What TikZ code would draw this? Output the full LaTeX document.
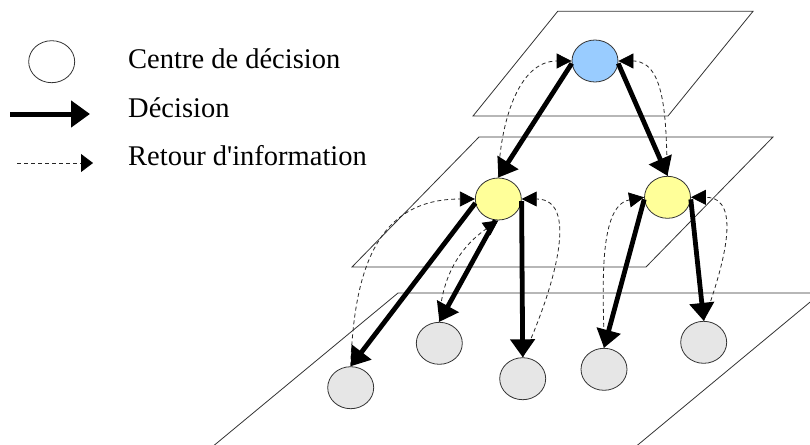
\documentclass[tikz,border=0pt]{standalone}
\usepackage{fontspec}
\setmainfont{Liberation Serif}[Ligatures=TeXOff]
\usetikzlibrary{shapes.geometric,arrows.meta}
\definecolor{cblue}{HTML}{99CCFF}
\definecolor{cyellow}{HTML}{FFFF99}
\definecolor{cgray}{HTML}{E6E6E6}
\definecolor{cline}{HTML}{333333}
\tikzset{
  centre/.style={ellipse, draw=cline, line width=0.8pt, minimum width=46pt, minimum height=42pt, inner sep=0pt},
  plane/.style={draw=cline, line width=0.8pt, line join=miter},
  decis/.style={line width=4.8pt, -{Triangle[length=18pt,width=24pt]}},
  retour/.style={draw=black!85, line width=0.8pt, dash pattern=on 4pt off 3pt, -{Triangle[length=15pt,width=15pt,fill=black,color=black]}},
  lbl/.style={anchor=base west, inner sep=0pt, font=\fontsize{28.5}{34}\selectfont}
}
\begin{document}
\begin{tikzpicture}[x=1pt,y=-1pt]
\useasboundingbox (0,0) rectangle (810,444);
% planes
\draw[plane] (557.7,11.3) -- (753,11.3) -- (668,116) -- (473,116) -- cycle;
\draw[plane] (479,137) -- (773,137) -- (646,267) -- (352,267) -- cycle;
\begin{scope}
\clip (0,0) rectangle (810,444);
\draw[plane] (196.4,460) -- (398,293) -- (821,293) -- (619.6,460);
\end{scope}
% legend
\node[centre, fill=white] (leg) at (51.7,61.7) {};
\node[lbl] (t1) at (128,68.3) {Centre de décision};
\node[lbl] (t2) at (128,117.3) {Décision};
\node[lbl] (t3) at (128,165.7) {Retour d'information};
\coordinate (a1) at (10,114);
\coordinate (a2) at (90,114);
\draw[line width=5pt, -{Triangle[length=19pt,width=26pt]}] (a1) -- (a2);
\coordinate (b1) at (17,163);
\coordinate (b2) at (93,163);
\draw[retour, -{Triangle[length=12pt,width=18pt,fill=black,color=black]}] (b1) -- (b2);
% nodes
\node[centre, fill=cblue] (B) at (595,61) {};
\node[centre, fill=cyellow] (YL) at (498.3,199) {};
\node[centre, fill=cyellow] (YR) at (667.5,197.3) {};
\node[centre, fill=cgray] (G1) at (350.7,387.7) {};
\node[centre, fill=cgray] (G2) at (439.3,343.3) {};
\node[centre, fill=cgray] (G3) at (522.7,378.7) {};
\node[centre, fill=cgray] (G4) at (604,369.3) {};
\node[centre, fill=cgray] (G5) at (703.7,342.3) {};
% feedback (dashed)
\draw[retour] (YL.north) to[out=88,in=180] (B.west);
\draw[retour] (YR.north) to[out=92,in=0] (B.east);
\draw[retour] (G1.north) to[out=88,in=180,looseness=1.2] (YL.west);
\draw[retour] (G2.north) to[out=88,in=215] (YL.south);
\draw[retour] (G3.north) to[out=65,in=0] (YL.east);
\draw[retour] (G4.north) to[out=90,in=190,looseness=0.8] (YR.west);
\draw[retour] (G5.north) to[out=70,in=0,looseness=1.1] (YR.east);
% decisions (thick)
\draw[decis] (B.186) -- (YL.north);
\draw[decis] (B.354) -- (YR.north);
\draw[decis] (YL.190) -- (G1.north);
\draw[decis] (YL.262) -- (G2.north);
\draw[decis] (YL.355) -- (G3.north);
\draw[decis] (YR.185) -- (G4.north);
\draw[decis] (YR.355) -- (G5.north);
\end{tikzpicture}
\end{document}
